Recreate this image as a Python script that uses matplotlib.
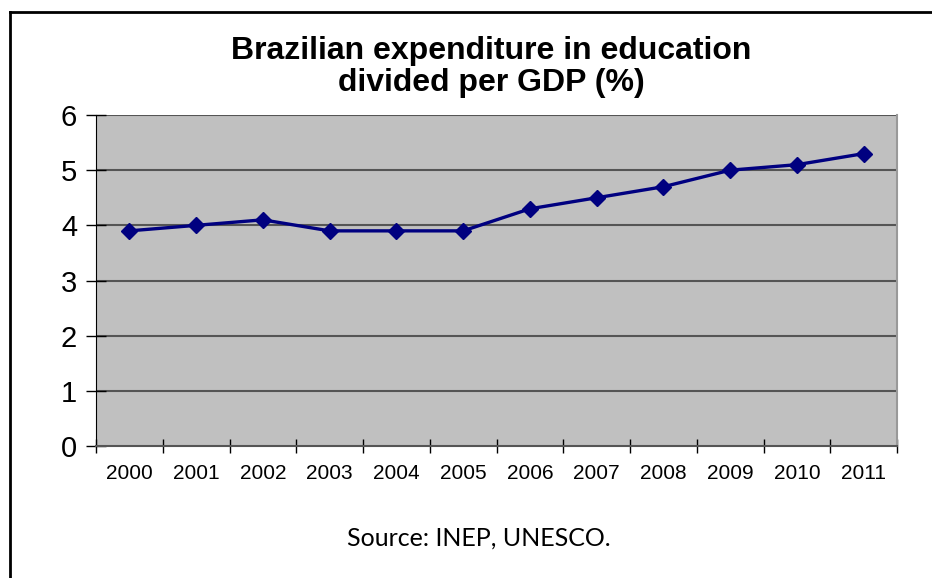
import matplotlib.pyplot as plt
from matplotlib.lines import Line2D

years = ["2000", "2001", "2002", "2003", "2004", "2005",
         "2006", "2007", "2008", "2009", "2010", "2011"]
spending = [3.9, 4.0, 4.1, 3.9, 3.9, 3.9, 4.3, 4.5, 4.7, 5.0, 5.1, 5.3]
y_ticks = [0, 1, 2, 3, 4, 5, 6]

fig = plt.figure(figsize=(9.32, 5.78), dpi=100)
ax = fig.add_axes([0.103, 0.2284, 0.8595, 0.5726])
ax.set_facecolor("#c0c0c0")

x = range(len(years))
ax.plot(x, spending, color="#000080", linewidth=2.4, marker="D",
        markersize=8.5, markerfacecolor="#000080", markeredgecolor="#000080")

ax.set_xlim(-0.5, len(years) - 0.5)
ax.set_ylim(0, 6)
ax.set_yticks(y_ticks)
ax.set_yticklabels([str(v) for v in y_ticks], fontsize=21, family="Liberation Sans")
for v in y_ticks[1:]:
    ax.axhline(v, color="#555555", linewidth=1.5, zorder=1)

# category labels centred, tick marks on the boundaries
ax.set_xticks(list(x))
ax.set_xticklabels(years, fontsize=15, family="Liberation Sans")
ax.tick_params(axis="x", length=0, pad=13)
ax.set_xticks([i - 0.5 for i in range(len(years) + 1)], minor=True)
ax.tick_params(axis="x", which="minor", direction="inout", length=10,
               width=1, color="#000000")
ax.tick_params(axis="y", direction="inout", length=15, width=1, pad=6)

ax.spines["top"].set_visible(False)
ax.spines["left"].set_color("#000000")
ax.spines["bottom"].set_color("#555555")
ax.spines["bottom"].set_linewidth(1.5)
ax.spines["right"].set_color("#999999")
ax.spines["right"].set_linewidth(1.5)

fig.text(0.527, 0.884, "Brazilian expenditure in education\ndivided per GDP (%)",
         ha="center", va="center", fontsize=23, fontweight="bold",
         family="Liberation Sans", linespacing=1.12)
fig.text(0.514, 0.069, "Source: INEP, UNESCO.", ha="center", va="center",
         fontsize=18, family="Lato")

# outer chart frame
fig.add_artist(Line2D([0.0102, 1.0], [0.980, 0.980], color="black",
                      linewidth=2, transform=fig.transFigure))
fig.add_artist(Line2D([0.0102, 0.0102], [0.0, 0.980], color="black",
                      linewidth=2, transform=fig.transFigure))

fig.savefig("out.png", dpi=100)
